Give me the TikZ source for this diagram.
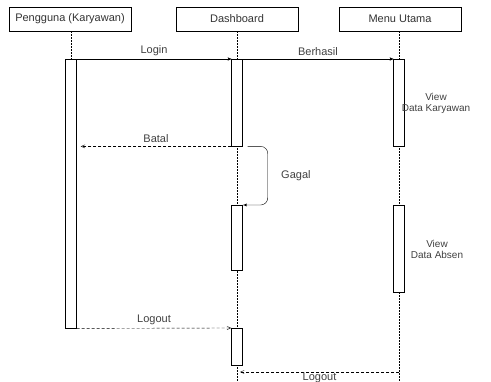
\documentclass[tikz,border=0pt]{standalone}
\usepackage{fontspec}
\setmainfont{Liberation Sans}
\usetikzlibrary{arrows,positioning}

\begin{document}
\begin{tikzpicture}[x=1pt,y=-1pt,thin,
  font=\fontsize{11}{12}\selectfont,
  head/.style={draw,minimum width=122pt,minimum height=24pt,inner sep=0pt,text=black!80},
  bar/.style={draw,fill=white,minimum width=11pt,inner sep=0pt,anchor=north},
  life/.style={dash pattern=on 1.5pt off 1.5pt},
  call/.style={-stealth',shorten >=0pt},
  reply/.style={->,>=angle 45,dash pattern=on 3pt off 2pt},
  lbl/.style={text=black!75,align=center}]
  \useasboundingbox (0,0) rectangle (491,382);

% lifelines
\node[head] (p) at (70,19) {Pengguna (Karyawan)};
\node[head] (d) at (237,19) {Dashboard};
\node[head] (m) at (400,19) {Menu Utama};
\coordinate (pend) at (71,328);
\coordinate (dend) at (237,382);
\coordinate (mend) at (399,382);
\draw[life] (p.south -| pend) -- (pend);
\draw[life] (d.south) -- (dend);
\draw[life] (m.south -| mend) -- (mend);

% activations
\node[bar,minimum height=269pt] (a1) at (71,59) {};
\node[bar,minimum height=87pt] (a2) at (237,59) {};
\node[bar,minimum height=87pt] (a3) at (399,59) {};
\node[bar,minimum height=65pt] (a4) at (237,205) {};
\node[bar,minimum height=87pt] (a5) at (399,205) {};
\node[bar,minimum height=37pt] (a6) at (237,328) {};

% messages
\draw[call] (a1.north east) -- node[lbl,above] {Login} (a2.north west);
\draw[call] (a2.north east) -- node[lbl,above] {Berhasil} (a3.north west);
\draw[reply] (a2.south west) -- node[lbl,above] {Batal} ([xshift=4pt]a1.east |- a2.south);
\draw[-latex,rounded corners=7pt] ([xshift=5pt]a2.south east) -- ++(20,0) |- node[lbl,pos=0.25,right=10pt] {Gagal} (a4.north east);
\draw[reply] (a1.south east) -- node[lbl,above] {Logout} (a6.north west);
\coordinate (back) at (399,372);
\draw[reply] (back) -- node[lbl,below=-3pt] {Logout} ([xshift=3pt]dend |- back);

% notes
\node[lbl,font=\fontsize{10}{11}\selectfont] (v1) at (436,103) {View\\Data Karyawan};
\node[lbl,font=\fontsize{10}{11}\selectfont] (v2) at (437,249) {View\\Data Absen};
\end{tikzpicture}
\end{document}
